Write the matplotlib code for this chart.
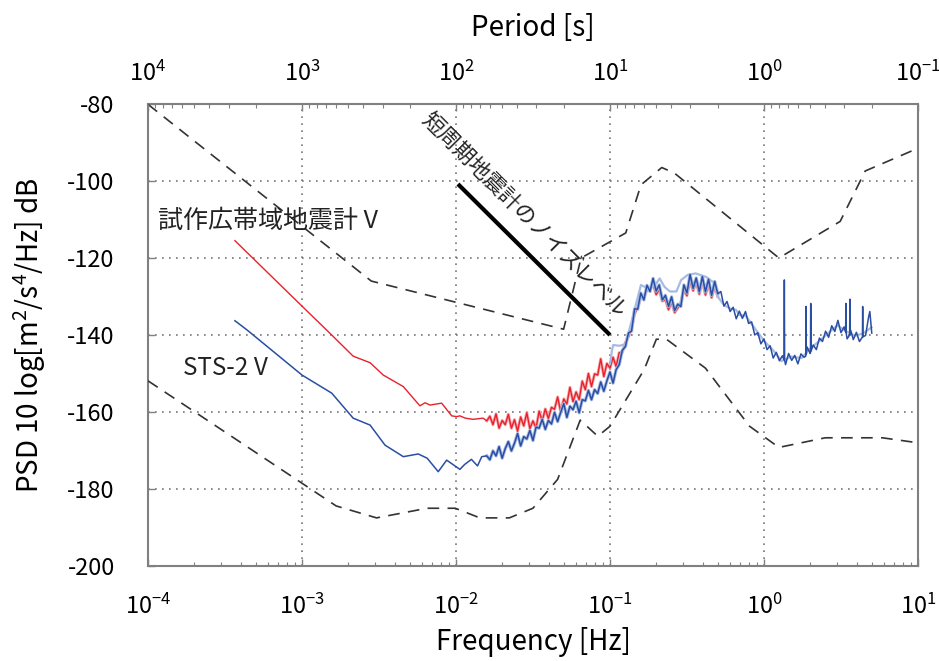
import numpy as np
import matplotlib
matplotlib.use("Agg")
import matplotlib.pyplot as plt
from matplotlib.ticker import FixedLocator, FuncFormatter, LogLocator, NullFormatter

plt.rcParams['font.family'] = ['Noto Sans CJK JP', 'DejaVu Sans']
plt.rcParams['mathtext.fontset'] = 'custom'
plt.rcParams['mathtext.rm'] = 'Noto Sans CJK JP'
plt.rcParams['mathtext.it'] = 'Noto Sans CJK JP'
plt.rcParams['mathtext.default'] = 'regular'
plt.rcParams['axes.unicode_minus'] = False

# --- noise models (dashed) : frequency [Hz], PSD [dB]
nhnm_f = [1e-4, 2.82e-3, 0.050, 0.0649, 0.1266, 0.159, 0.217, 0.263, 1.25, 3.125, 4.545, 10.0]
nhnm_db = [-80.1, -126.0, -138.5, -120.0, -113.5, -101.0, -96.5, -98.0, -120.0, -110.5, -97.4, -91.5]

nlnm_f = [1e-4, 1.667e-3, 3.05e-3, 6.49e-3, 9.9e-3, 0.01429, 0.0222, 0.0316, 0.0457, 0.0641,
          0.0833, 0.100, 0.1667, 0.200, 0.2326, 0.4167, 0.806, 1.25, 2.5, 5.88, 10.0]
nlnm_db = [-151.9, -184.4, -187.5, -185.0, -185.0, -187.5, -187.5, -185.0, -177.5, -162.1,
           -166.3, -163.7, -149.0, -141.1, -141.1, -148.6, -163.7, -169.2, -166.7, -166.7, -168.0]

# short period seismometer noise level (thick line)
sp_f = [0.0103, 0.100]
sp_db = [-100.8, -140.0]

# --- low-frequency smooth parts
red_lo_f = [3.67e-4, 1.0e-3, 1.56e-3, 2.15e-3, 2.77e-3, 3.37e-3, 4.55e-3, 5.83e-3, 6.3e-3,
            6.78e-3, 8.07e-3, 9.38e-3, 0.0101, 0.0106, 0.0115, 0.0129, 0.0150]
red_lo_db = [-115.5, -132.5, -140.0, -145.5, -147.2, -150.4, -153.4, -158.4, -157.6,
             -158.2, -157.7, -161.0, -161.2, -161.0, -161.6, -161.9, -161.6]

blue_lo_f = [3.67e-4, 4.4e-4, 1.0e-3, 1.56e-3, 2.15e-3, 2.77e-3, 3.46e-3, 4.55e-3, 5.69e-3,
             6.5e-3, 7.67e-3, 8.7e-3, 0.0106, 0.0114, 0.0126, 0.0138, 0.0147]
blue_lo_db = [-136.3, -138.7, -150.4, -155.1, -161.6, -163.4, -168.6, -171.6, -170.9,
              -172.0, -175.5, -172.5, -174.9, -173.6, -172.3, -174.0, -171.6]

# --- noisy middle band (shared frequencies)
f_mid = [0.01585, 0.01660, 0.01738, 0.01820, 0.01905, 0.01995, 0.02089, 0.02188, 0.02291, 0.02399,
         0.02512, 0.02630, 0.02754, 0.02884, 0.03020, 0.03162, 0.03311, 0.03467, 0.03631, 0.03802,
         0.03981, 0.04169, 0.04365, 0.04571, 0.04786, 0.05012, 0.05248, 0.05495, 0.05754, 0.06026,
         0.06310, 0.06607, 0.06918, 0.07244, 0.07586, 0.07943, 0.08318, 0.08710, 0.09120, 0.09550,
         0.10000, 0.10470, 0.10960, 0.11480, 0.12020, 0.12590]
red_mid_db = [-162.3, -161.1, -163.3, -160.5, -164.2, -162.2, -163.3, -160.6, -164.2, -162.0,
              -165.0, -161.3, -163.6, -160.2, -164.3, -162.3, -164.2, -159.8, -162.3, -159.2,
              -161.7, -158.8, -159.3, -156.1, -159.9, -156.6, -157.9, -153.6, -157.3, -154.8,
              -156.8, -152.0, -154.2, -150.0, -153.4, -150.1, -150.4, -146.2, -150.8, -147.4,
              -148.6, -145.8, -148.2, -144.6, -144.5, -142.0]
blue_mid_db = [-171.4, -172.4, -170.1, -171.4, -169.0, -172.0, -169.5, -167.7, -170.1, -168.1,
               -165.6, -168.8, -166.4, -167.0, -164.8, -167.4, -163.9, -164.2, -161.9, -164.5,
               -162.2, -163.1, -160.1, -162.5, -160.1, -157.8, -161.4, -158.5, -159.4, -157.2,
               -160.2, -156.8, -157.1, -154.4, -156.8, -154.2, -155.2, -152.2, -154.6, -151.9,
               -149.6, -152.5, -149.0, -147.7, -144.0, -143.0]

# --- microseism peak band (shared frequencies)
f_peak = [0.1318, 0.1380, 0.1445, 0.1514, 0.1585, 0.1660, 0.1738, 0.1820, 0.1905, 0.1995,
          0.2089, 0.2188, 0.2291, 0.2399, 0.2512, 0.2630, 0.2754, 0.2884, 0.3020, 0.3162,
          0.3311, 0.3467, 0.3631, 0.3802, 0.3981, 0.4169, 0.4365, 0.4571, 0.4786, 0.5012]
red_peak_db = [-140.5, -138.2, -134.5, -132.8, -130.2, -130.0, -128.4, -128.0, -126.8, -129.5,
               -128.2, -131.2, -130.8, -133.4, -131.5, -134.2, -133.0, -131.6, -128.3, -129.8,
               -126.0, -128.5, -126.4, -129.4, -126.0, -129.6, -126.8, -130.3, -127.4, -130.0]
blue_peak_db = [-139.5, -139.0, -133.2, -133.3, -129.1, -130.9, -127.1, -128.7, -125.3, -128.6,
                -127.0, -130.9, -129.7, -132.6, -130.1, -133.7, -132.0, -132.6, -127.0, -129.1,
                -124.3, -127.9, -125.2, -128.8, -124.8, -128.8, -125.5, -129.7, -126.1, -129.3]

# --- high-frequency part of STS-2 (with spikes)
blue_hf_f = [0.5248, 0.5495, 0.5754, 0.6026, 0.6310, 0.6607, 0.6918, 0.7244, 0.7586, 0.7943,
             0.8318, 0.8710, 0.9120, 0.9550, 1.000, 1.047, 1.096, 1.148, 1.202, 1.259,
             1.318, 1.350, 1.356, 1.362, 1.380, 1.445, 1.514, 1.585, 1.660, 1.738,
             1.820, 1.868, 1.875, 1.882, 1.905, 1.995, 2.005, 2.012, 2.020, 2.089,
             2.188, 2.291, 2.399, 2.512, 2.630, 2.754, 2.884, 3.020, 3.162, 3.311,
             3.390, 3.404, 3.418, 3.467, 3.600, 3.614, 3.625, 3.660, 3.802, 3.981,
             4.169, 4.360, 4.375, 4.390, 4.571, 4.786, 4.870, 5.012]
blue_hf_db = [-128.7, -132.5, -131.3, -133.9, -132.8, -135.8, -133.8, -135.7, -133.9, -137.0,
              -136.6, -140.0, -139.4, -142.3, -141.0, -143.8, -142.8, -146.0, -144.5, -146.7,
              -145.4, -146.5, -125.7, -146.5, -147.7, -144.8, -146.6, -145.3, -147.5, -144.9,
              -145.8, -145.5, -132.6, -145.0, -143.1, -144.8, -144.5, -131.8, -144.2, -142.6,
              -143.8, -140.8, -141.7, -139.0, -140.6, -137.6, -139.1, -136.2, -139.4, -137.9,
              -139.2, -131.8, -139.5, -141.0, -140.0, -130.7, -140.0, -138.8, -141.2, -139.3,
              -141.7, -140.5, -132.6, -140.5, -140.1, -135.2, -133.9, -139.5]

# light blue second trace
lb_f = [0.100, 0.103, 0.105, 0.115, 0.126, 0.138, 0.152, 0.159, 0.170, 0.182, 0.200, 0.210,
        0.226, 0.245, 0.270, 0.290, 0.320, 0.360, 0.420, 0.480, 0.500, 0.550, 0.600, 0.660, 0.690,
        0.760, 0.870, 1.000, 1.150, 1.300, 1.500, 1.750, 2.000, 2.300, 2.650, 3.000, 3.400,
        3.900, 4.400, 5.000]
lb_db = [-147.5, -144.0, -142.6, -142.8, -142.4, -136.5, -130.0, -127.0, -127.6, -127.9, -126.6,
         -125.3, -127.5, -128.7, -128.7, -125.7, -124.4, -124.0, -124.9, -126.6, -130.0, -132.2,
         -133.1, -133.5, -134.8, -135.0, -138.2, -141.5, -144.0, -146.8, -145.6, -146.0, -143.5,
         -141.5, -139.3, -137.5, -139.0, -140.2, -139.6, -138.0]

RED = '#e8212b'
RED_L = '#f5a9ad'
BLUE = '#2a4ea4'
BLUE_L = '#a7bbe2'
GRAY = '#808080'

fig = plt.figure(figsize=(9.39, 6.61), dpi=100)
ax = fig.add_axes([0.1576, 0.1437, 0.8200, 0.6990])

# noise models
ax.plot(nhnm_f, nhnm_db, color='#333333', lw=1.2, dashes=(7, 5), zorder=3)
ax.plot(nlnm_f, nlnm_db, color='#333333', lw=1.2, dashes=(7, 5), zorder=3)
ax.plot(sp_f, sp_db, color='black', lw=3.0, solid_capstyle='butt', zorder=4)

# prototype broadband seismometer (red)
red_f = red_lo_f + f_mid + f_peak
red_db = red_lo_db + red_mid_db + red_peak_db
ax.plot(f_mid + f_peak, red_mid_db + red_peak_db, color=RED_L, lw=2.2, zorder=5)
ax.plot(red_f, red_db, color=RED, lw=1.0, zorder=6)

# STS-2 (blue)
blue_f = blue_lo_f + f_mid + f_peak + blue_hf_f
blue_db = blue_lo_db + blue_mid_db + blue_peak_db + blue_hf_db
ax.plot(f_mid + f_peak, blue_mid_db + blue_peak_db, color=BLUE_L, lw=2.4, zorder=7)
ax.plot(lb_f, lb_db, color=BLUE_L, lw=1.6, zorder=7)
ax.plot(blue_f, blue_db, color=BLUE, lw=1.1, zorder=8)

ax.set_xscale('log')
ax.set_xlim(1e-4, 1e1)
ax.set_ylim(-200, -80)

ax.xaxis.set_major_locator(FixedLocator([1e-4, 1e-3, 1e-2, 1e-1, 1e0, 1e1]))
ax.xaxis.set_major_formatter(FuncFormatter(lambda v, p: r'$10^{%d}$' % round(np.log10(v))))
ax.xaxis.set_minor_locator(LogLocator(base=10, subs=np.arange(2, 10), numticks=20))
ax.xaxis.set_minor_formatter(NullFormatter())
ax.set_yticks(np.arange(-200, -79, 20))

ax.grid(True, which='major', linestyle=(0, (1, 3.2)), color='#777777', lw=1.2, zorder=1)
for s in ax.spines.values():
    s.set_color(GRAY)
    s.set_linewidth(1.5)

ax.tick_params(axis='x', which='major', direction='in', length=5, width=1, color=GRAY,
               labelsize=17, pad=20, top=False)
ax.tick_params(axis='x', which='minor', direction='in', length=3, width=0.8, color=GRAY, top=False)
ax.tick_params(axis='y', which='major', direction='in', length=5, width=1, color=GRAY,
               labelsize=17, pad=24, right=False)

ax.set_xlabel('Frequency [Hz]', fontsize=20, labelpad=6)
ax.set_ylabel('PSD 10 log[m$^2$/s$^4$/Hz] dB', fontsize=20, labelpad=14)

# period axis on top
ax2 = ax.twiny()
ax2.set_xscale('log')
ax2.set_xlim(1e4, 1e-1)
ax2.xaxis.set_major_locator(FixedLocator([1e4, 1e3, 1e2, 1e1, 1e0, 1e-1]))
ax2.xaxis.set_major_formatter(FuncFormatter(lambda v, p: r'$10^{%d}$' % round(np.log10(v))))
ax2.xaxis.set_minor_locator(LogLocator(base=10, subs=np.arange(2, 10), numticks=20))
ax2.xaxis.set_minor_formatter(NullFormatter())
ax2.tick_params(axis='x', which='major', direction='in', length=5, width=1, color=GRAY,
                labelsize=17, pad=13)
ax2.tick_params(axis='x', which='minor', direction='in', length=3, width=0.8, color=GRAY)
ax2.set_xlabel('Period [s]', fontsize=20, labelpad=18)
for s in ax2.spines.values():
    s.set_visible(False)

# annotations
ax.text(0.013, 0.747, '試作広帯域地震計 V', transform=ax.transAxes, fontsize=18,
        ha='left', va='center', color='#222222')
ax.text(0.045, 0.429, 'STS-2 V', transform=ax.transAxes, fontsize=17.5,
        ha='left', va='center', color='#222222')
ax.text(0.488, 0.760, '短周期地震計のノイズレベル', transform=ax.transAxes, fontsize=15.5,
        ha='center', va='center', rotation=-45, rotation_mode='anchor', color='#222222')

fig.savefig('out.png', dpi=100)
